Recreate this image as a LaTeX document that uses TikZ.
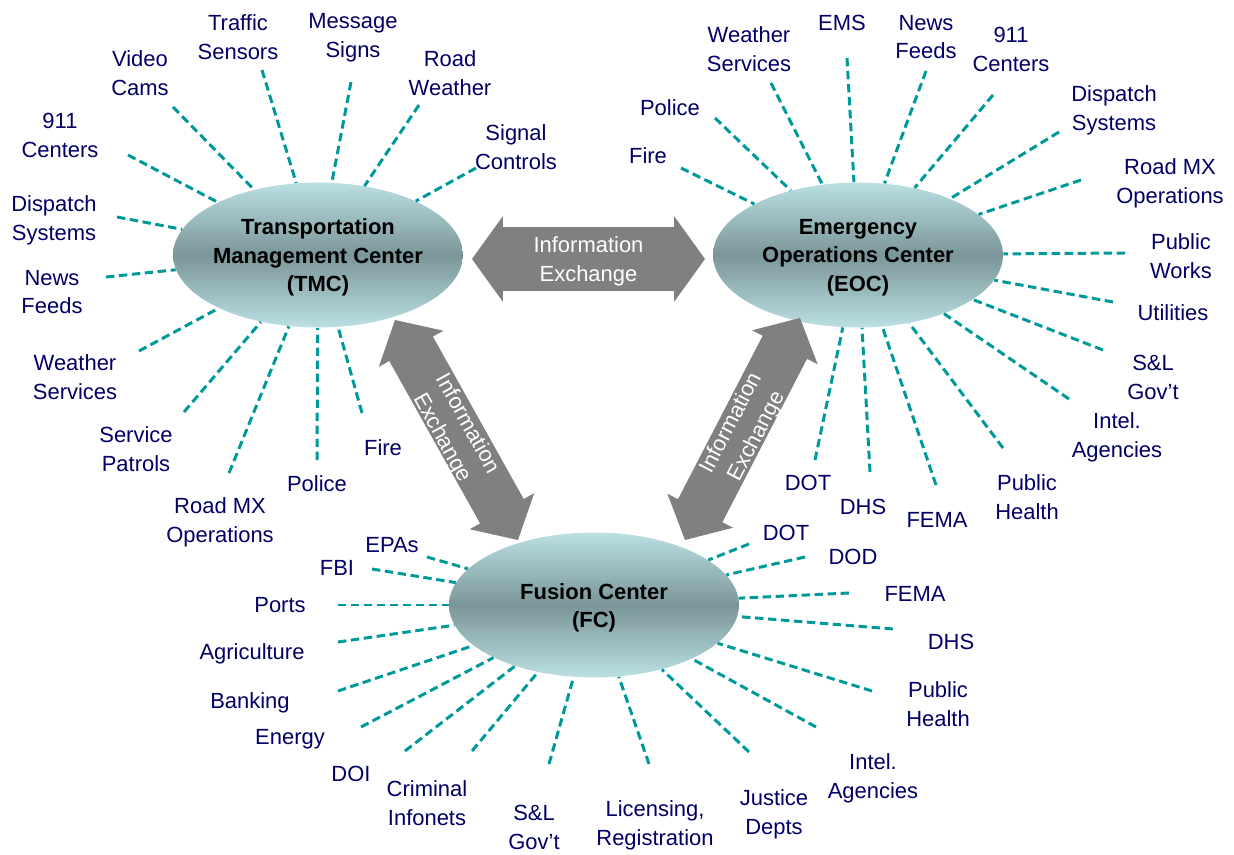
\documentclass[tikz,border=0pt]{standalone}
\usepackage{fontspec}
\setmainfont{Liberation Sans}
\usetikzlibrary{calc,shapes.geometric}
\definecolor{navy}{HTML}{000066}
\definecolor{spokecol}{HTML}{009999}
\definecolor{elllight}{HTML}{BBE0E4}
\definecolor{elldark}{HTML}{7A9698}
\definecolor{arrgray}{HTML}{808080}
\newcommand\hubspoke[5]{%
  \node[lbl] (#1) at (#2) {#3};
  \coordinate (#1e) at (#4);
  \draw[spokeline] (#1e) -- (#5);}
\newcommand\blockarr[6]{% prefix, A, B, shaft half width, head half width, head length
  \coordinate (#1a) at ($(#2)!#6!(#3)$);
  \coordinate (#1b) at ($(#3)!#6!(#2)$);
  \fill[blockfill] (#2) -- ($(#1a)!#5!90:(#3)$) -- ($(#1a)!#4!90:(#3)$)
    -- ($(#1b)!#4!-90:(#2)$) -- ($(#1b)!#5!-90:(#2)$) -- (#3)
    -- ($(#1b)!#5!90:(#2)$) -- ($(#1b)!#4!90:(#2)$)
    -- ($(#1a)!#4!-90:(#3)$) -- ($(#1a)!#5!-90:(#3)$) -- cycle;}
\begin{document}
\begin{tikzpicture}[x=0.02cm,y=-0.02cm,
  lbl/.style={text=navy, align=center, inner sep=0pt, yshift=-0.6pt, font=\fontsize{12.5}{16.4}\selectfont},
  spokeline/.style={draw=spokecol, line width=1.7pt, dash pattern=on 4.8pt off 2.6pt},
  hub/.style={ellipse, minimum width=5.8cm, minimum height=2.9cm, inner sep=0pt,
    top color=elllight, bottom color=elllight, middle color=elldark},
  hubtext/.style={align=center, inner sep=0pt, text=black, yshift=-1.5pt, font=\bfseries\fontsize{12.5}{16.2}\selectfont},
  blockfill/.style={fill=arrgray},
  arrowtext/.style={text=white, align=center, inner sep=0pt, yshift=-1.3pt, font=\fontsize{12.5}{16.4}\selectfont}]
\useasboundingbox (0,0) rectangle (1234,855);

% hubs
\node[hub] (tmc) at (318,255) {};
\node[hubtext] (tmct) at (tmc) {Transportation\\Management Center\\(TMC)};
\node[hub] (eoc) at (858,255) {};
\node[hubtext] (eoct) at (eoc) {Emergency\\Operations Center\\(EOC)};
\node[hub] (fc) at (594,605) {};
\node[hubtext] (fct) at (fc) {Fusion Center\\(FC)};

% TMC spokes
\hubspoke{t1}{60,134}{911\\Centers}{128,155}{tmc}
\hubspoke{t2}{140,72}{Video\\Cams}{173,107}{tmc}
\hubspoke{t3}{238,36}{Traffic\\Sensors}{262,70}{tmc}
\hubspoke{t4}{353,37}{Message\\Signs}{351,82}{tmc}
\hubspoke{t5}{450,72}{Road\\Weather}{419,105}{tmc}
\hubspoke{t6}{516,146}{Signal\\Controls}{476,168}{tmc}
\hubspoke{t7}{54,219}{Dispatch\\Systems}{117,217}{tmc}
\hubspoke{t8}{52,291}{News\\Feeds}{106,277}{tmc}
\hubspoke{t9}{75,376}{Weather\\Services}{139,351}{tmc}
\hubspoke{t10}{136,448}{Service\\Patrols}{184,412}{tmc}
\hubspoke{t11}{220,521}{Road MX\\Operations}{229,473}{tmc}
\hubspoke{t12}{317,483}{Police}{317,460}{tmc}
\hubspoke{t13}{383,447}{Fire}{362,413}{tmc}

% EOC spokes
\hubspoke{e1}{648,155}{Fire}{681,168}{eoc}
\hubspoke{e2}{670,107}{Police}{715,118}{eoc}
\hubspoke{e3}{749,48}{Weather\\Services}{771,83}{eoc}
\hubspoke{e4}{842,22}{EMS}{847,58}{eoc}
\hubspoke{e5}{926,36}{News\\Feeds}{926,71}{eoc}
\hubspoke{e6}{1011,48}{911\\Centers}{993,95}{eoc}
\hubspoke{e7}{1114,109}{Dispatch\\Systems}{1059,132}{eoc}
\hubspoke{e8}{1170,182}{Road MX\\Operations}{1081,180}{eoc}
\hubspoke{e9}{1181,255}{Public\\Works}{1125,253}{eoc}
\hubspoke{e10}{1173,312}{Utilities}{1113,302}{eoc}
\hubspoke{e11}{1153,376}{S\&L\\Gov’t}{1103,350}{eoc}
\hubspoke{e12}{1117,436}{Intel.\\Agencies}{1069,399}{eoc}
\hubspoke{e13}{1027,496}{Public\\Health}{1003,448}{eoc}
\hubspoke{e14}{937,519}{FEMA}{936,485}{eoc}
\hubspoke{e15}{863,506}{DHS}{870,472}{eoc}
\hubspoke{e16}{808,482}{DOT}{815,460}{eoc}

% FC spokes
\hubspoke{f1}{392,544}{EPAs}{427,557}{fc}
\hubspoke{f2}{337,567}{FBI}{372,569}{fc}
\hubspoke{f3}{280,604}{Ports}{338,605}{fc}
\hubspoke{f4}{252,653}{Agriculture}{338,642}{fc}
\hubspoke{f5}{250,702}{Banking}{338,691}{fc}
\hubspoke{f6}{290,738}{Energy}{361,727}{fc}
\hubspoke{f7}{351,773}{DOI}{405,751}{fc}
\hubspoke{f8}{427,802}{Criminal\\Infonets}{472,751}{fc}
\hubspoke{f9}{534,826}{S\&L\\Gov’t}{549,764}{fc}
\hubspoke{f10}{655,824}{Licensing,\\Registration}{649,764}{fc}
\hubspoke{f11}{774,813}{Justice\\Depts}{749,752}{fc}
\hubspoke{f12}{873,777}{Intel.\\Agencies}{816,727}{fc}
\hubspoke{f13}{938,703}{Public\\Health}{872,691}{fc}
\hubspoke{f14}{951,641}{DHS}{893,629}{fc}
\hubspoke{f15}{915,593}{FEMA}{849,593}{fc}
\hubspoke{f16}{853,556}{DOD}{805,557}{fc}
\hubspoke{f17}{786,532}{DOT}{749,544}{fc}

% block arrows
\coordinate (h1) at (472,259); \coordinate (h2) at (705,259);
\coordinate (l1) at (395,320); \coordinate (l2) at (518,540);
\coordinate (r1) at (685,540); \coordinate (r2) at (800,318);
\blockarr{ha}{h1}{h2}{0.64cm}{0.86cm}{0.62cm}
\blockarr{la}{l1}{l2}{0.5cm}{0.74cm}{0.66cm}
\blockarr{ra}{r1}{r2}{0.5cm}{0.74cm}{0.66cm}
\path (h1) -- node[arrowtext] (htext) {Information\\Exchange} (h2);
\path (l1) -- node[arrowtext, sloped] (ltext) {Information\\Exchange} (l2);
\path (r1) -- node[arrowtext, sloped] (rtext) {Information\\Exchange} (r2);
\end{tikzpicture}
\end{document}
